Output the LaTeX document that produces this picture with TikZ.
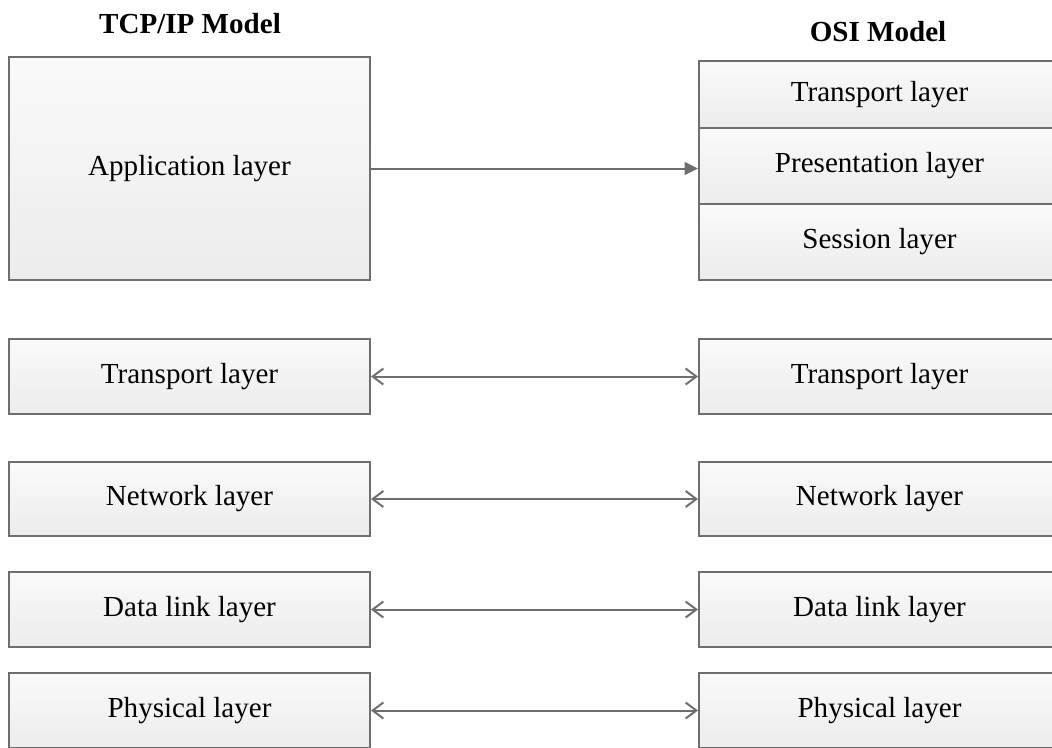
\documentclass[tikz,border=0pt]{standalone}
\usepackage{fontspec}
\setmainfont{Liberation Serif}
\usetikzlibrary{arrows.meta}

\definecolor{edgegray}{RGB}{110,110,110}
\definecolor{topfill}{RGB}{250,250,250}
\definecolor{botfill}{RGB}{236,236,236}

\tikzset{every picture/.style={line width=0.75pt}}
\tikzset{
  layerbox/.style={draw=edgegray, line width=1.5pt, top color=topfill, bottom color=botfill,
    inner sep=0pt, minimum width=270.75pt, font=\fontsize{21.8}{26}\selectfont},
  modeltitle/.style={inner sep=0.75pt, font=\fontsize{21.8}{26}\selectfont\bfseries},
  oneway/.style={draw=edgegray, line width=1.5pt, -{Triangle[length=10pt,width=9.5pt]}},
  twoway/.style={draw=edgegray, line width=1.5pt, {Straight Barb[length=8pt,width=12pt,line width=1.5pt]}-{Straight Barb[length=8pt,width=12pt,line width=1.5pt]}}
}

\begin{document}
\begin{tikzpicture}[x=0.75pt,y=0.75pt,yscale=-1,xscale=1]
\useasboundingbox (0,0) rectangle (1052,747);
\clip (0,0) rectangle (1052,747);

% Titles
\node [modeltitle] (tcptitle) at (190,24) {TCP/IP Model};
\node [modeltitle] (ositit) at (878,32) {OSI Model};

% TCP/IP column
\node [layerbox, minimum height=167.25pt] (tapp) at (189.5,168.5) {Application layer};
\node [layerbox, minimum height=56.25pt] (ttra) at (189.5,376.5) {Transport layer};
\node [layerbox, minimum height=55.5pt] (tnet) at (189.5,499) {Network layer};
\node [layerbox, minimum height=56.25pt] (tdat) at (189.5,609.5) {Data link layer};
\node [layerbox, minimum height=56.25pt] (tphy) at (189.5,710.5) {Physical layer};

% OSI column
\node [layerbox, minimum height=50.25pt] (otop) at (879.5,94.5) {Transport layer};
\node [layerbox, minimum height=57pt] (opre) at (879.5,166) {Presentation layer};
\node [layerbox, minimum height=57pt] (oses) at (879.5,242) {Session layer};
\node [layerbox, minimum height=56.25pt] (otra) at (879.5,376.5) {Transport layer};
\node [layerbox, minimum height=55.5pt] (onet) at (879.5,499) {Network layer};
\node [layerbox, minimum height=56.25pt] (odat) at (879.5,609.5) {Data link layer};
\node [layerbox, minimum height=56.25pt] (ophy) at (879.5,710.5) {Physical layer};

% Connectors
\draw [oneway] (tapp.east) -- (tapp.east -| opre.west);
\draw [twoway] (ttra) -- (otra);
\draw [twoway] (tnet) -- (onet);
\draw [twoway] (tdat) -- (odat);
\draw [twoway] (tphy) -- (ophy);

\end{tikzpicture}
\end{document}
